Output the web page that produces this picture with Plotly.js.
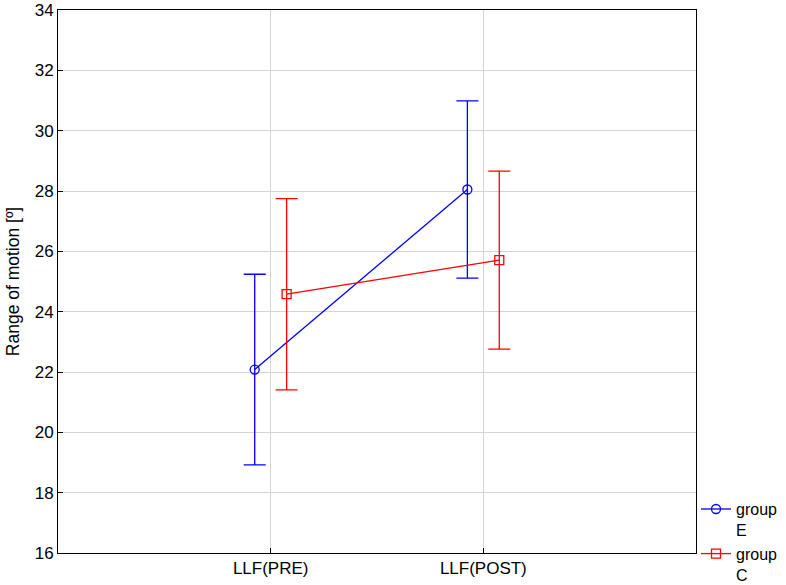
<!DOCTYPE html>
<html>
<head>
<meta charset="utf-8">
<script src="https://cdn.plot.ly/plotly-3.0.1.min.js"></script>
<style>html,body{margin:0;padding:0;background:#fff;}#chart{width:786px;height:585px;}</style>
</head>
<body>
<div id="chart"></div>
<script>
const categories = ["LLF(PRE)", "LLF(POST)"];
const groupE_mean = [22.08, 28.05];
const groupE_err = [3.16, 2.94];
const groupC_mean = [24.58, 25.71];
const groupC_err = [3.17, 2.95];
const seriesNames = ["group<br>E", "group<br>C"];

const idx = categories.map((c, i) => i);
const off = 0.075;

const traces = [
  {
    x: idx.map(i => i - off), y: groupE_mean, name: seriesNames[0],
    type: "scatter", mode: "lines+markers",
    line: {color: "#0000ff", width: 1.3},
    marker: {symbol: "circle-open", size: 9, color: "#0000ff", line: {width: 1.3}},
    error_y: {type: "data", array: groupE_err, visible: true, color: "#0000ff", thickness: 1.3, width: 11}
  },
  {
    x: idx.map(i => i + off), y: groupC_mean, name: seriesNames[1],
    type: "scatter", mode: "lines+markers",
    line: {color: "#ff0000", width: 1.3},
    marker: {symbol: "square-open", size: 9, color: "#ff0000", line: {width: 1.3}},
    error_y: {type: "data", array: groupC_err, visible: true, color: "#ff0000", thickness: 1.3, width: 11}
  }
];

const layout = {
  width: 786, height: 585,
  margin: {l: 58, r: 90, t: 10, b: 32, autoexpand: false},
  paper_bgcolor: "#fff", plot_bgcolor: "#fff",
  font: {family: "Liberation Sans, Arial, sans-serif", size: 17, color: "#000"},
  showlegend: true,
  legend: {x: 1.0, xanchor: "left", y: -0.072, yanchor: "bottom", valign: "top",
           font: {size: 16}, tracegroupgap: 0, itemwidth: 30, bgcolor: "rgba(0,0,0,0)"},
  xaxis: {
    range: [-1, 2], tickvals: idx, ticktext: categories,
    showgrid: true, gridcolor: "#d4d4d4", gridwidth: 1,
    zeroline: false, showline: true, linecolor: "#000", linewidth: 1, mirror: true,
    ticks: "inside", ticklen: 5, tickcolor: "#000", tickfont: {size: 17}
  },
  yaxis: {
    range: [16, 34], dtick: 2, tick0: 16,
    showgrid: true, gridcolor: "#d4d4d4", gridwidth: 1,
    zeroline: false, showline: true, linecolor: "#000", linewidth: 1, mirror: true,
    ticks: "inside", ticklen: 5, tickcolor: "#000", tickfont: {size: 17},
    title: {text: "Range of motion [º]", font: {size: 17.5}, standoff: 10}
  }
};

Plotly.newPlot("chart", traces, layout, {displayModeBar: false, staticPlot: true});
</script>
</body>
</html>
